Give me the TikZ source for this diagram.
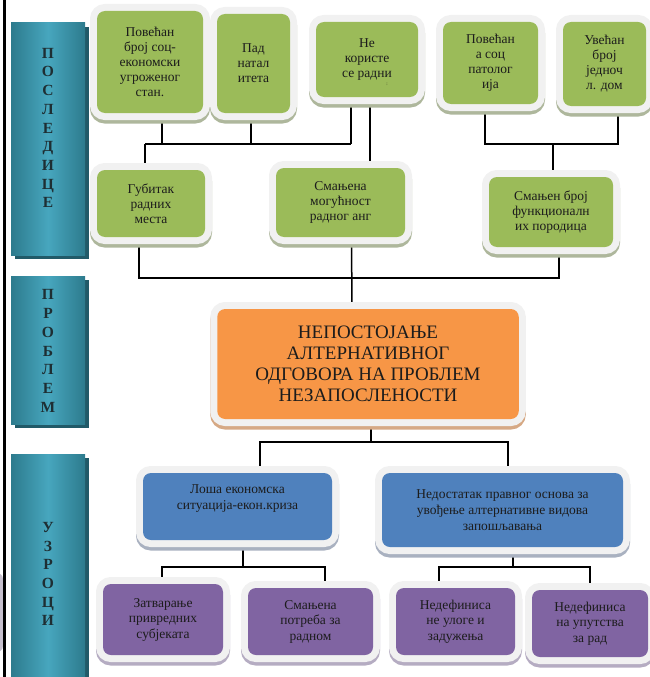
\documentclass[tikz,border=0pt]{standalone}
\usepackage{fontspec}
\setmainfont{Liberation Serif}
\definecolor{grn}{HTML}{9BBB59}
\definecolor{grnsh}{HTML}{AEB79C}
\definecolor{org}{HTML}{F79646}
\definecolor{orgsh}{HTML}{D6A985}
\definecolor{blu}{HTML}{4F81BD}
\definecolor{blush}{HTML}{A9B1C0}
\definecolor{pur}{HTML}{8064A2}
\definecolor{pursh}{HTML}{B5ACC2}
\definecolor{framec}{HTML}{F1F1F1}
\definecolor{txt}{HTML}{1C1C1C}
\definecolor{barE}{HTML}{2D7B8D}
\definecolor{barM}{HTML}{47A6BE}
\definecolor{barsh}{HTML}{215A68}
\definecolor{bartxt}{HTML}{1E2E33}
\definecolor{fragc}{HTML}{C6C0CE}
\pgfdeclarelayer{bglayer}
\pgfsetlayers{bglayer,main}
\begin{document}
\begin{tikzpicture}[x=1pt,y=-1pt,
  lnk/.style={line width=1.5pt, draw=black},
  boxbase/.style={rectangle, rounded corners=8pt, inner sep=0pt, align=center, text=txt},
  frm/.style 2 args={boxbase,
     preaction={draw=#2, line width=14pt, transform canvas={yshift=-3.5pt}},
     preaction={draw=framec, line width=14pt}, fill=#1},
  greenbox/.style={frm={grn}{grnsh}, font=\fontsize{13.5}{15}\selectfont},
  orangebox/.style={frm={org}{orgsh}, font=\fontsize{19}{21}\selectfont},
  bluebox/.style={frm={blu}{blush}, font=\fontsize{13.5}{16}\selectfont},
  purplebox/.style={frm={pur}{pursh}, font=\fontsize{13.5}{15.5}\selectfont},
  sidebar/.style={rectangle, inner sep=0pt, minimum width=74pt,
     preaction={fill=barsh, transform canvas={xshift=3.5pt,yshift=-4pt}},
     left color=barE, right color=barE, middle color=barM},
  barlbl/.style={align=center, inner sep=0pt, text=bartxt, font=\bfseries\fontsize{15.5}{18.7}\selectfont}
]
\useasboundingbox (0,0) rectangle (650,677);
\clip (0,0) rectangle (650,677);

% left fragment and rule
\fill[fragc, rounded corners=6pt] (-20,573) rectangle (3,652);
\draw[line width=2.5pt] (4.5,-2) -- (4.5,680);

% side bars
\node[sidebar, minimum height=232pt] (bar1) at (48,139) {};
\node[sidebar, minimum height=148pt] (bar2) at (48,350) {};
\node[sidebar, minimum height=226pt] (bar3) at (48,567) {};
\node[barlbl] (lbl1) at (48,128) {П\\О\\С\\Л\\Е\\Д\\И\\Ц\\Е};
\node[barlbl] (lbl2) at (48,351) {П\\Р\\О\\Б\\Л\\Е\\М};
\node[barlbl] (lbl3) at (48,574) {У\\З\\Р\\О\\Ц\\И};

% top row
\node[greenbox, minimum width=106pt, minimum height=102pt] (A) at (150,62) {Повећан\\број соц-\\економски\\угроженог\\стан.};
\node[greenbox, minimum width=73pt, minimum height=99pt] (B) at (253.5,63.5) {Пад\\натал\\итета};
\node[greenbox, minimum width=102pt, minimum height=75pt] (C) at (367,59.5) {Не\\користе\\се радни};
\node[inner sep=0pt, font=\fontsize{5}{5}\selectfont, text=txt] (Cdot) at (387,84) {:};
\node[greenbox, minimum width=95pt, minimum height=82pt] (D) at (490.5,63) {Повећан\\а соц\\патолог\\ија};
\node[greenbox, minimum width=83pt, minimum height=84pt] (E) at (604.5,64) {Увећан\\број\\једноч\\л. дом};

% middle row
\node[greenbox, minimum width=108pt, minimum height=67pt] (F) at (151,203.5) {Губитак\\радних\\места};
\node[greenbox, minimum width=129pt, minimum height=69pt] (G) at (340.5,202.5) {Смањена\\могућност\\радног анг};
\node[greenbox, minimum width=124pt, minimum height=70pt] (H) at (551,212) {Смањен број\\функционалн\\их породица};

% problem
\node[orangebox, minimum width=301.5pt, minimum height=110pt] (O) at (368,364) {НЕПОСТОЈАЊЕ\\АЛТЕРНАТИВНОГ\\ОДГОВОРА НА ПРОБЛЕМ\\НЕЗАПОСЛЕНОСТИ};

% causes
\node[bluebox, minimum width=189pt, minimum height=67pt] (Bl1) at (237.5,506.5) {Лоша економска\\ситуација-екон.криза\\[3pt]};
\node[bluebox, minimum width=241pt, minimum height=74pt] (Bl2) at (502.5,510) {Недостатак правног основа за\\увођење алтернативне видова\\запошљавања};

\node[purplebox, minimum width=120pt, minimum height=71pt] (P1) at (163,619.5) {Затварање\\привредних\\субјеката};
\node[purplebox, minimum width=125pt, minimum height=67pt] (P2) at (310.5,621.5) {Смањена\\потреба за\\радном};
\node[purplebox, minimum width=119pt, minimum height=67pt] (P3) at (455.5,621.5) {Недефиниса\\не улоге и\\задужења};
\node[purplebox, minimum width=116pt, minimum height=67pt] (P4) at (590,623.5) {Недефиниса\\на упутства\\за рад};

% junction coordinates
\coordinate (t1) at (145,144);
\coordinate (t2) at (351,144);
\coordinate (t3) at (485,144);
\coordinate (t4) at (618,144);
\coordinate (m1) at (139,278);
\coordinate (m2) at (559,278);
\coordinate (b1) at (260,442);
\coordinate (b2) at (508,442);
\coordinate (c1) at (162,567);
\coordinate (c2) at (325,567);
\coordinate (c3) at (439,567);
\coordinate (c4) at (590,567);

\begin{pgfonlayer}{bglayer}
\draw[lnk] (t1) -- (t2);
\draw[lnk] ([xshift=12pt]A.south) -- ([xshift=12pt]A.south |- t1);
\draw[lnk] ([xshift=-2.5pt]B.south) -- ([xshift=-2.5pt]B.south |- t1);
\draw[lnk] ([xshift=-16pt]C.south) -- (t2);
\draw[lnk] (t1) -- ([xshift=-6pt]F.north);
\draw[lnk] ([xshift=3pt]C.south) -- ([xshift=29.5pt]G.north);
\draw[lnk] ([xshift=-5.5pt]D.south) -- (t3) -- (t4) -- ([xshift=13.5pt]E.south);
\draw[lnk] ([xshift=2pt]H.north) -- ([xshift=2pt]H.north |- t3);
\draw[lnk] ([xshift=-12pt]F.south) -- (m1) -- (m2) -- ([xshift=8pt]H.south);
\draw[lnk] ([xshift=11pt]G.south) -- ([xshift=-16pt]O.north);
\draw[lnk] ([xshift=3pt]O.south) -- ([xshift=3pt]O.south |- b1);
\draw[lnk] ([xshift=22.5pt]Bl1.north) -- (b1) -- (b2) -- ([xshift=5.5pt]Bl2.north);
\draw[lnk] ([xshift=5.5pt]Bl1.south) -- ([xshift=5.5pt]Bl1.south |- c1);
\draw[lnk] ([xshift=-1pt]P1.north) -- (c1) -- (c2) -- ([xshift=14.5pt]P2.north);
\draw[lnk] ([xshift=10.5pt]Bl2.south) -- ([xshift=10.5pt]Bl2.south |- c3);
\draw[lnk] ([xshift=-16.5pt]P3.north) -- (c3) -- (c4) -- (P4.north);
\end{pgfonlayer}
\end{tikzpicture}
\end{document}
